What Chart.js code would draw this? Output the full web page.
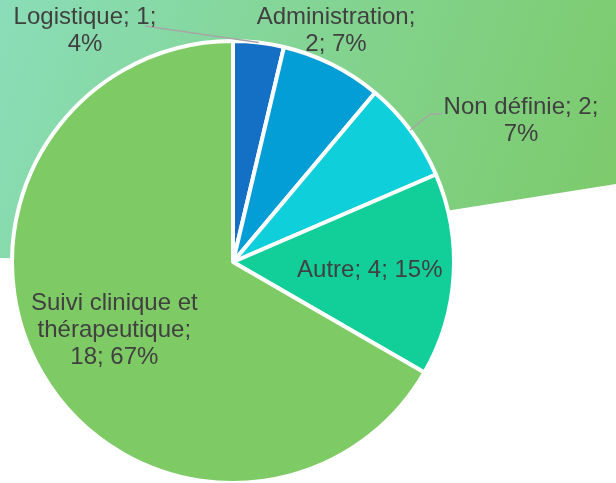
<!DOCTYPE html>
<html>
<head>
<meta charset="utf-8">
<script src="https://cdn.jsdelivr.net/npm/chart.js@4.4.0/dist/chart.umd.min.js"></script>
<style>
  html, body { margin: 0; padding: 0; background: #fff; }
  #wrap { width: 616px; height: 483px; }
</style>
</head>
<body>
<div id="wrap"><canvas id="pie" width="616" height="483"></canvas></div>
<script>
// ---- data ----
const categories = ['Logistique', 'Administration', 'Non définie', 'Autre', 'Suivi clinique et thérapeutique'];
const counts = [1, 2, 2, 4, 18];
const sliceColors = ['#1470C5', '#049ED7', '#0FCFDB', '#12CF99', '#7ECB65'];

// label placement: null = inside slice, otherwise offset from the pie centre
const labelSpots = [[-148, -231], [103, -231], [288, -141], null, null];
const labelWrap = [150, 170, 165, 220, 178];
// leader line bends, relative to the pie centre
const leaders = [[[-88, -236]], null, [[197, -148], [209, -148]], null, null];

function wrapText(ctx, text, maxW) {
  const words = text.split(' ');
  const lines = [];
  let cur = '';
  words.forEach(w => {
    const test = cur ? cur + ' ' + w : w;
    if (cur && ctx.measureText(test).width > maxW) {
      lines.push(cur);
      cur = w;
    } else {
      cur = test;
    }
  });
  if (cur) lines.push(cur);
  return lines;
}

// green backdrop band behind the pie
const backdrop = {
  id: 'backdrop',
  beforeDraw(chart) {
    const ctx = chart.ctx;
    const g = ctx.createLinearGradient(0, 0, 616, 220);
    g.addColorStop(0, '#8ADDB8');
    g.addColorStop(1, '#7CCA6A');
    ctx.save();
    ctx.fillStyle = g;
    ctx.beginPath();
    ctx.moveTo(0, 0);
    ctx.lineTo(616, 0);
    ctx.lineTo(616, 184);
    ctx.lineTo(452, 210);
    ctx.lineTo(233, 262);
    ctx.lineTo(0, 258);
    ctx.closePath();
    ctx.fill();
    ctx.restore();
  }
};

// Excel-style "category; value; percent" labels
const sliceLabels = {
  id: 'sliceLabels',
  afterDatasetsDraw(chart) {
    const ctx = chart.ctx;
    const meta = chart.getDatasetMeta(0);
    const total = counts.reduce((a, b) => a + b, 0);
    ctx.save();
    ctx.font = '24px "Liberation Sans", Arial, sans-serif';
    ctx.textAlign = 'center';
    ctx.textBaseline = 'middle';
    meta.data.forEach((arc, i) => {
      const { x, y, startAngle, endAngle, outerRadius } =
        arc.getProps(['x', 'y', 'startAngle', 'endAngle', 'outerRadius'], true);
      const mid = (startAngle + endAngle) / 2;
      let lx, ly;
      if (labelSpots[i]) {
        lx = x + labelSpots[i][0];
        ly = y + labelSpots[i][1];
      } else {
        lx = x + Math.cos(mid) * outerRadius * 0.62;
        ly = y + Math.sin(mid) * outerRadius * 0.62;
      }
      if (leaders[i]) {
        ctx.beginPath();
        ctx.strokeStyle = '#A6A6A6';
        ctx.lineWidth = 1.5;
        ctx.moveTo(x + Math.cos(mid) * outerRadius, y + Math.sin(mid) * outerRadius);
        leaders[i].forEach(p => ctx.lineTo(x + p[0], y + p[1]));
        ctx.stroke();
      }
      const pct = Math.round(counts[i] / total * 100);
      const lines = wrapText(ctx, `${categories[i]}; ${counts[i]}; ${pct}%`, labelWrap[i]);
      const lh = 27;
      ctx.fillStyle = '#404040';
      lines.forEach((ln, k) => ctx.fillText(ln, lx, ly + (k - (lines.length - 1) / 2) * lh));
    });
    ctx.restore();
  }
};

new Chart(document.getElementById('pie'), {
  type: 'pie',
  data: {
    labels: categories,
    datasets: [{
      data: counts,
      backgroundColor: sliceColors,
      borderColor: '#ffffff',
      borderWidth: 4,
      radius: 221
    }]
  },
  options: {
    responsive: false,
    animation: false,
    layout: { padding: { left: 0, right: 150, top: 41, bottom: 0 } },
    plugins: { legend: { display: false }, tooltip: { enabled: false } }
  },
  plugins: [backdrop, sliceLabels]
});
</script>
</body>
</html>
